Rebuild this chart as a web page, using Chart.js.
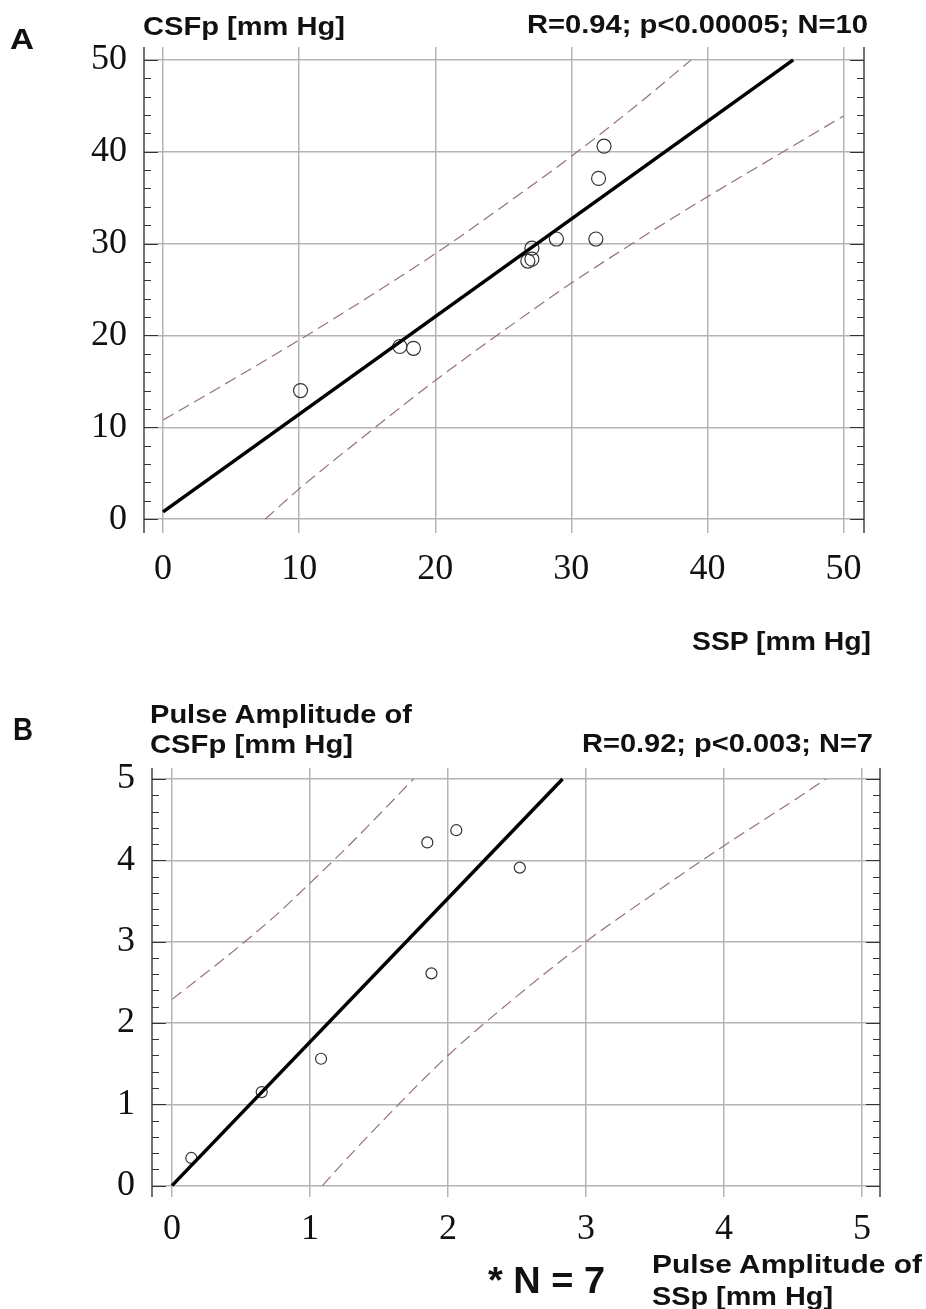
<!DOCTYPE html>
<html>
<head>
<meta charset="utf-8">
<script src="https://cdn.jsdelivr.net/npm/chart.js@4"></script>
<style>
  html, body { margin:0; padding:0; background:#fff; }
  body { position:relative; width:926px; height:1309px; overflow:hidden; }
  canvas { position:absolute; left:0; }
  .lbl { position:absolute; font-weight:bold; font-family:"Liberation Sans", Arial, sans-serif; line-height:1; white-space:nowrap; transform-origin:0 0; color:#111; }
</style>
</head>
<body>
<canvas id="cA" width="926" height="640" style="top:0px"></canvas>
<canvas id="cB" width="926" height="620" style="top:680px"></canvas>
<script>
// ---------- Panel A data ----------
const ticksA = [0, 10, 20, 30, 40, 50];
const sspA  = [10.1, 17.4, 18.4, 27.1, 26.8, 27.1, 28.9, 31.8, 32.0, 32.4];
const csfpA = [14.0, 18.8, 18.6, 29.5, 28.1, 28.3, 30.5, 30.5, 37.1, 40.6];
const fitAX = [0, 46.3];
const fitAY = [0.8, 50];
const upperAX = [0, 5, 10, 15, 20, 25, 30, 35, 38.8];
const upperAY = [10.8, 15.1, 19.5, 24.1, 28.9, 34.1, 39.5, 45.3, 50];
const lowerAX = [7.5, 10, 15, 20, 25, 30, 35, 40, 45, 50];
const lowerAY = [0, 3.3, 9.3, 15.1, 20.5, 25.7, 30.5, 35.1, 39.5, 43.9];

// ---------- Panel B data ----------
const ticksB = [0, 1, 2, 3, 4, 5];
const sspB  = [0.14, 0.65, 1.08, 1.85, 2.06, 2.52, 1.88];
const csfpB = [0.34, 1.15, 1.56, 4.22, 4.37, 3.91, 2.61];
const fitBX = [0, 2.83];
const fitBY = [0, 5];
const upperBX = [0, 0.25, 0.5, 0.75, 1.0, 1.25, 1.5, 1.75];
const upperBY = [2.29, 2.62, 2.96, 3.32, 3.72, 4.13, 4.56, 5.0];
const lowerBX = [1.09, 1.25, 1.5, 2.0, 2.5, 3.0, 3.5, 4.0, 4.5, 4.74];
const lowerBY = [0, 0.3, 0.75, 1.6, 2.33, 3.0, 3.6, 4.18, 4.73, 5.0];

// ---------- Texts ----------
const statsA = "R=0.94; p<0.00005; N=10";
const statsB = "R=0.92; p<0.003; N=7";

const pts = (xs, ys) => xs.map((x, i) => ({x: x, y: ys[i]}));

const framePlugin = {
  id: 'frame',
  beforeDatasetsDraw(chart, args, opts) {
    const {ctx, chartArea: a} = chart;
    const y = chart.scales.y;
    ctx.save();
    ctx.strokeStyle = '#444';
    ctx.lineWidth = 1.5;
    ctx.beginPath();
    ctx.moveTo(a.left, a.top); ctx.lineTo(a.left, a.bottom);
    ctx.moveTo(a.right, a.top); ctx.lineTo(a.right, a.bottom);
    ctx.stroke();
    ctx.lineWidth = 1.2;
    ctx.strokeStyle = '#333';
    ctx.beginPath();
    const n = Math.round(opts.max / opts.minorStep);
    for (let i = 0; i <= n; i++) {
      const v = i * opts.minorStep;
      const r = v / opts.majorStep;
      const major = Math.abs(r - Math.round(r)) < 1e-6;
      const len = major ? 14 : 7;
      const p = Math.round(y.getPixelForValue(v)) + 0.5;
      ctx.moveTo(a.left, p); ctx.lineTo(a.left + len, p);
      ctx.moveTo(a.right, p); ctx.lineTo(a.right - len, p);
    }
    ctx.stroke();
    ctx.restore();
  }
};

function makeChart(id, cfg) {
  const tickFont = {family: '"Liberation Serif", "Times New Roman", serif', size: 36};
  const grid = {color: '#b4b4b4', lineWidth: 1.5, drawTicks: false};
  return new Chart(document.getElementById(id), {
    type: 'scatter',
    data: {
      datasets: [
        {data: pts(cfg.upX, cfg.upY), showLine: true, borderColor: '#957272', borderWidth: 1.2, borderDash: [12, 6], pointRadius: 0, cubicInterpolationMode: 'monotone', fill: false},
        {data: pts(cfg.loX, cfg.loY), showLine: true, borderColor: '#957272', borderWidth: 1.2, borderDash: [12, 6], pointRadius: 0, cubicInterpolationMode: 'monotone', fill: false},
        {data: pts(cfg.fitX, cfg.fitY), showLine: true, borderColor: '#000', borderWidth: 3.5, pointRadius: 0, fill: false},
        {data: pts(cfg.px, cfg.py), showLine: false, pointStyle: 'circle', pointRadius: cfg.r, pointBackgroundColor: 'rgba(0,0,0,0)', pointBorderColor: '#333', pointBorderWidth: 1.2}
      ]
    },
    options: {
      responsive: false,
      animation: false,
      events: [],
      layout: {padding: cfg.pad},
      plugins: {
        legend: {display: false},
        tooltip: {enabled: false},
        frame: {minorStep: cfg.minorStep, majorStep: cfg.majorStep, max: cfg.ticks[cfg.ticks.length - 1]}
      },
      scales: {
        x: {
          type: 'linear', min: cfg.xmin, max: cfg.xmax,
          border: {display: false},
          grid: grid,
          ticks: {font: tickFont, color: '#111', padding: cfg.xPad, maxRotation: 0, autoSkip: false},
          afterBuildTicks: (ax) => { ax.ticks = cfg.ticks.map(v => ({value: v})); },
          afterFit: (ax) => { ax.height = cfg.xH; }
        },
        y: {
          type: 'linear', min: cfg.ymin, max: cfg.ymax,
          border: {display: false},
          grid: grid,
          ticks: {font: tickFont, color: '#111', padding: 17, autoSkip: false},
          afterBuildTicks: (ax) => { ax.ticks = cfg.ticks.map(v => ({value: v})); },
          afterFit: (ax) => { ax.width = 60; }
        }
      }
    },
    plugins: [framePlugin]
  });
}

makeChart('cA', {
  px: sspA, py: csfpA, fitX: fitAX, fitY: fitAY,
  upX: upperAX, upY: upperAY, loX: lowerAX, loY: lowerAY,
  ticks: ticksA, r: 7, minorStep: 2, majorStep: 10,
  xmin: -1.4, xmax: 51.5, ymin: -1.5, ymax: 51.4,
  pad: {left: 84, right: 62, top: 47, bottom: 47}, xH: 60, xPad: 15
});

makeChart('cB', {
  px: sspB, py: csfpB, fitX: fitBX, fitY: fitBY,
  upX: upperBX, upY: upperBY, loX: lowerBX, loY: lowerBY,
  ticks: ticksB, r: 5.5, minorStep: 0.2, majorStep: 1,
  xmin: -0.145, xmax: 5.13, ymin: -0.14, ymax: 5.135,
  pad: {left: 92, right: 46, top: 88, bottom: 43}, xH: 60, xPad: 11
});

function addLabel(text, left, right, capTop, size) {
  const d = document.createElement('div');
  d.className = 'lbl';
  d.textContent = text;
  d.style.left = left + 'px';
  d.style.top = (capTop - 0.13 * size) + 'px';
  d.style.fontSize = size + 'px';
  document.body.appendChild(d);
  const w = d.getBoundingClientRect().width;
  d.style.transform = 'scaleX(' + ((right - left) / w).toFixed(4) + ')';
}

addLabel('A', 10, 34, 28, 30);
addLabel('CSFp [mm Hg]', 143, 345, 17, 25);
addLabel(statsA, 527, 868, 15, 25);
addLabel('SSP [mm Hg]', 692, 871, 632, 25);

addLabel('B', 13, 33, 717, 32);
addLabel('Pulse Amplitude of', 150, 412, 704, 26);
addLabel('CSFp [mm Hg]', 150, 353, 735, 25);
addLabel(statsB, 582, 873, 734, 25);
addLabel('* N = 7', 488, 605, 1268, 36);
addLabel('Pulse Amplitude of', 652, 922, 1255, 25);
addLabel('SSp [mm Hg]', 652, 833, 1287, 25);
</script>
</body>
</html>
